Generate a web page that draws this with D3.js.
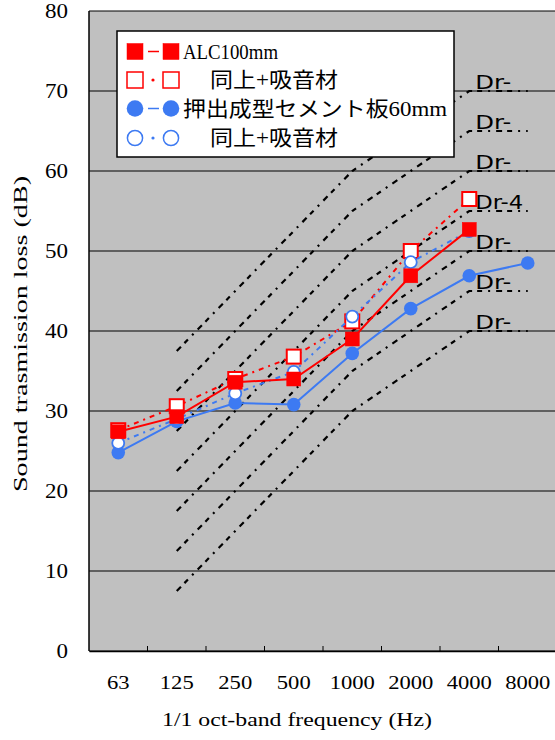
<!DOCTYPE html>
<html>
<head>
<meta charset="utf-8">
<script src="https://cdn.jsdelivr.net/npm/d3@7/dist/d3.min.js"></script>
<style>
  html, body { margin: 0; padding: 0; background: #fff; }
  svg { display: block; }
</style>
</head>
<body>
<svg id="chart" width="555" height="740"></svg>
<script>
// Octave-band centre frequencies (Hz)
const freqs = ["63", "125", "250", "500", "1000", "2000", "4000", "8000"];

// Sound transmission loss (dB) per band; null = not measured
const alc100 = [27.4, 29.3, 33.6, 34.0, 39.0, 46.9, 52.7, null];
const alc100Absorb = [27.6, 30.6, 34.0, 36.8, 41.2, 50.0, 56.5, null];
const cement60 = [24.8, 28.7, 31.0, 30.8, 37.2, 42.8, 46.9, 48.5];
const cement60Absorb = [26.0, 29.0, 32.2, 34.9, 41.8, 48.6, 52.5, null];

// Rating curves: level reached at 4000 Hz, and the curve shape relative to it
const drLevels = [70, 65, 60, 55, 50, 45, 40];
const drFreqs = ["125", "250", "500", "1000", "2000", "4000", "8000"];
const drShape = [-32.5, -25, -17.5, -10, -5, 0, 0];
const drLabels = ["Dr-", "Dr-", "Dr-", "Dr-4", "Dr-", "Dr-", "Dr-"];

const yTicks = [0, 10, 20, 30, 40, 50, 60, 70, 80];
const legendLabels = ["ALC100mm", "同上+吸音材", "押出成型セメント板60mm", "同上+吸音材"];

const RED = "#ff0000";
const BLUE = "#3d7af2";
const serif = "'Liberation Serif', 'DejaVu Serif', 'Noto Sans CJK JP', serif";
const cjk = "'Liberation Serif', 'Noto Sans CJK JP', serif";

const svg = d3.select("#chart");
const plot = { left: 89, right: 557, top: 11, bottom: 651 };

const x = d3.scaleBand().domain(freqs).range([plot.left, plot.right]).padding(0);
const cx = f => x(f) + x.bandwidth() / 2;
const y = d3.scaleLinear().domain([0, 80]).range([plot.bottom, plot.top]);

// Plot background
svg.append("rect")
  .attr("x", plot.left).attr("y", plot.top)
  .attr("width", 555 - plot.left).attr("height", plot.bottom - plot.top)
  .attr("fill", "#c0c0c0");

// Horizontal gridlines
svg.append("g").selectAll("line").data(yTicks).join("line")
  .attr("x1", plot.left).attr("x2", 555)
  .attr("y1", d => y(d)).attr("y2", d => y(d))
  .attr("stroke", "#000").attr("stroke-width", 1);

// Y axis line
svg.append("line")
  .attr("x1", plot.left).attr("x2", plot.left)
  .attr("y1", plot.top).attr("y2", plot.bottom)
  .attr("stroke", "#000").attr("stroke-width", 1.5);

// X axis: baseline with small inward ticks between bands
const xAxis = d3.axisBottom(x).tickSize(0).tickFormat("");
const gx = svg.append("g").attr("transform", `translate(0,${plot.bottom})`).call(xAxis);
gx.select(".domain").attr("stroke", "#000").attr("stroke-width", 1.5);
svg.append("g").selectAll("line").data(freqs.slice(1)).join("line")
  .attr("x1", d => x(d)).attr("x2", d => x(d))
  .attr("y1", plot.bottom).attr("y2", plot.bottom - 5)
  .attr("stroke", "#000").attr("stroke-width", 1);

// X tick labels
svg.append("g").selectAll("text").data(freqs).join("text")
  .attr("x", d => cx(d)).attr("y", 689)
  .attr("text-anchor", "middle")
  .attr("font-family", serif).attr("font-size", 19)
  .attr("textLength", d => d.length * 11.3).attr("lengthAdjust", "spacingAndGlyphs")
  .text(d => d);

// Y tick labels
svg.append("g").selectAll("text").data(yTicks).join("text")
  .attr("x", 68).attr("y", d => y(d) + 7)
  .attr("text-anchor", "end")
  .attr("font-family", serif).attr("font-size", 20)
  .attr("textLength", d => String(d).length * 11.5).attr("lengthAdjust", "spacingAndGlyphs")
  .text(d => d);

// Axis titles
svg.append("text")
  .attr("x", 297).attr("y", 726)
  .attr("text-anchor", "middle")
  .attr("font-family", serif).attr("font-size", 19)
  .attr("textLength", 270).attr("lengthAdjust", "spacingAndGlyphs")
  .text("1/1 oct-band frequency (Hz)");

svg.append("text")
  .attr("transform", "translate(27,334) rotate(-90)")
  .attr("text-anchor", "middle")
  .attr("font-family", serif).attr("font-size", 19)
  .attr("textLength", 316).attr("lengthAdjust", "spacingAndGlyphs")
  .text("Sound trasmission loss (dB)");

// Rating curves
const drLine = d3.line().x(d => cx(d.f)).y(d => y(d.v));
const drG = svg.append("g");
drLevels.forEach((lvl, i) => {
  const pts = drFreqs.map((f, j) => ({ f, v: lvl + drShape[j] }));
  drG.append("path")
    .attr("d", drLine(pts))
    .attr("fill", "none").attr("stroke", "#000")
    .attr("stroke-width", 2.2)
    .attr("stroke-dasharray", "6,5,5,6,2,6");
  drG.append("text")
    .attr("x", cx("4000") + 6).attr("y", y(lvl) - 2)
    .attr("font-family", "'DejaVu Sans', sans-serif").attr("font-size", 20)
    .attr("textLength", drLabels[i].length * 12).attr("lengthAdjust", "spacingAndGlyphs")
    .text(drLabels[i]);
});

// Series drawing helpers
function seriesPoints(vals) {
  return freqs.map((f, i) => ({ f, v: vals[i] })).filter(d => d.v != null);
}
const seriesLine = d3.line().x(d => cx(d.f)).y(d => y(d.v));

function drawSeries(vals, color, dashed, marker, filled) {
  const pts = seriesPoints(vals);
  const g = svg.append("g");
  g.append("path").attr("d", seriesLine(pts))
    .attr("fill", "none").attr("stroke", color)
    .attr("stroke-width", 2)
    .attr("stroke-dasharray", dashed ? "5,5,2,5" : null);
  if (marker === "square") {
    g.selectAll("rect").data(pts).join("rect")
      .attr("x", d => cx(d.f) - 7).attr("y", d => y(d.v) - 7)
      .attr("width", 14).attr("height", 14)
      .attr("fill", filled ? color : "#fff")
      .attr("stroke", color).attr("stroke-width", filled ? 0.5 : 2);
  } else {
    g.selectAll("circle").data(pts).join("circle")
      .attr("cx", d => cx(d.f)).attr("cy", d => y(d.v))
      .attr("r", filled ? 6.8 : 6)
      .attr("fill", filled ? color : "#fff")
      .attr("stroke", color).attr("stroke-width", filled ? 0 : 1.8);
  }
}

drawSeries(cement60, BLUE, false, "circle", true);
drawSeries(alc100Absorb, RED, true, "square", false);
drawSeries(cement60Absorb, BLUE, true, "circle", false);
drawSeries(alc100, RED, false, "square", true);

// Legend
const lg = svg.append("g");
lg.append("rect").attr("x", 117).attr("y", 31).attr("width", 337).attr("height", 126)
  .attr("fill", "#fff").attr("stroke", "#000").attr("stroke-width", 1.5);

const legendRows = [
  { color: RED, marker: "square", filled: true, dashed: false, tx: 183, w: 95 },
  { color: RED, marker: "square", filled: false, dashed: true, tx: 210, w: 128 },
  { color: BLUE, marker: "circle", filled: true, dashed: false, tx: 183, w: 264 },
  { color: BLUE, marker: "circle", filled: false, dashed: true, tx: 210, w: 128 }
];
const rowY = [51.5, 80, 108.5, 138];
legendRows.forEach((r, i) => {
  const ly = rowY[i];
  if (r.dashed) {
    lg.append("circle").attr("cx", 153).attr("cy", ly).attr("r", 1.6).attr("fill", r.color);
  } else {
    lg.append("line").attr("x1", 148).attr("x2", 159).attr("y1", ly).attr("y2", ly)
      .attr("stroke", r.color).attr("stroke-width", 1.5);
  }
  [135, 171].forEach(mx => {
    if (r.marker === "square") {
      lg.append("rect").attr("x", mx - 8).attr("y", ly - 8).attr("width", 16).attr("height", 16)
        .attr("fill", r.filled ? r.color : "#fff")
        .attr("stroke", r.color).attr("stroke-width", r.filled ? 0.5 : 1.5);
    } else {
      lg.append("circle").attr("cx", mx).attr("cy", ly).attr("r", r.filled ? 8.3 : 7.6)
        .attr("fill", r.filled ? r.color : "#fff")
        .attr("stroke", r.color).attr("stroke-width", r.filled ? 0 : 1.5);
    }
  });
  lg.append("text").attr("x", r.tx).attr("y", ly + 7)
    .attr("font-family", cjk).attr("font-size", 21)
    .attr("textLength", r.w).attr("lengthAdjust", "spacingAndGlyphs")
    .text(legendLabels[i]);
});
</script>
</body>
</html>
